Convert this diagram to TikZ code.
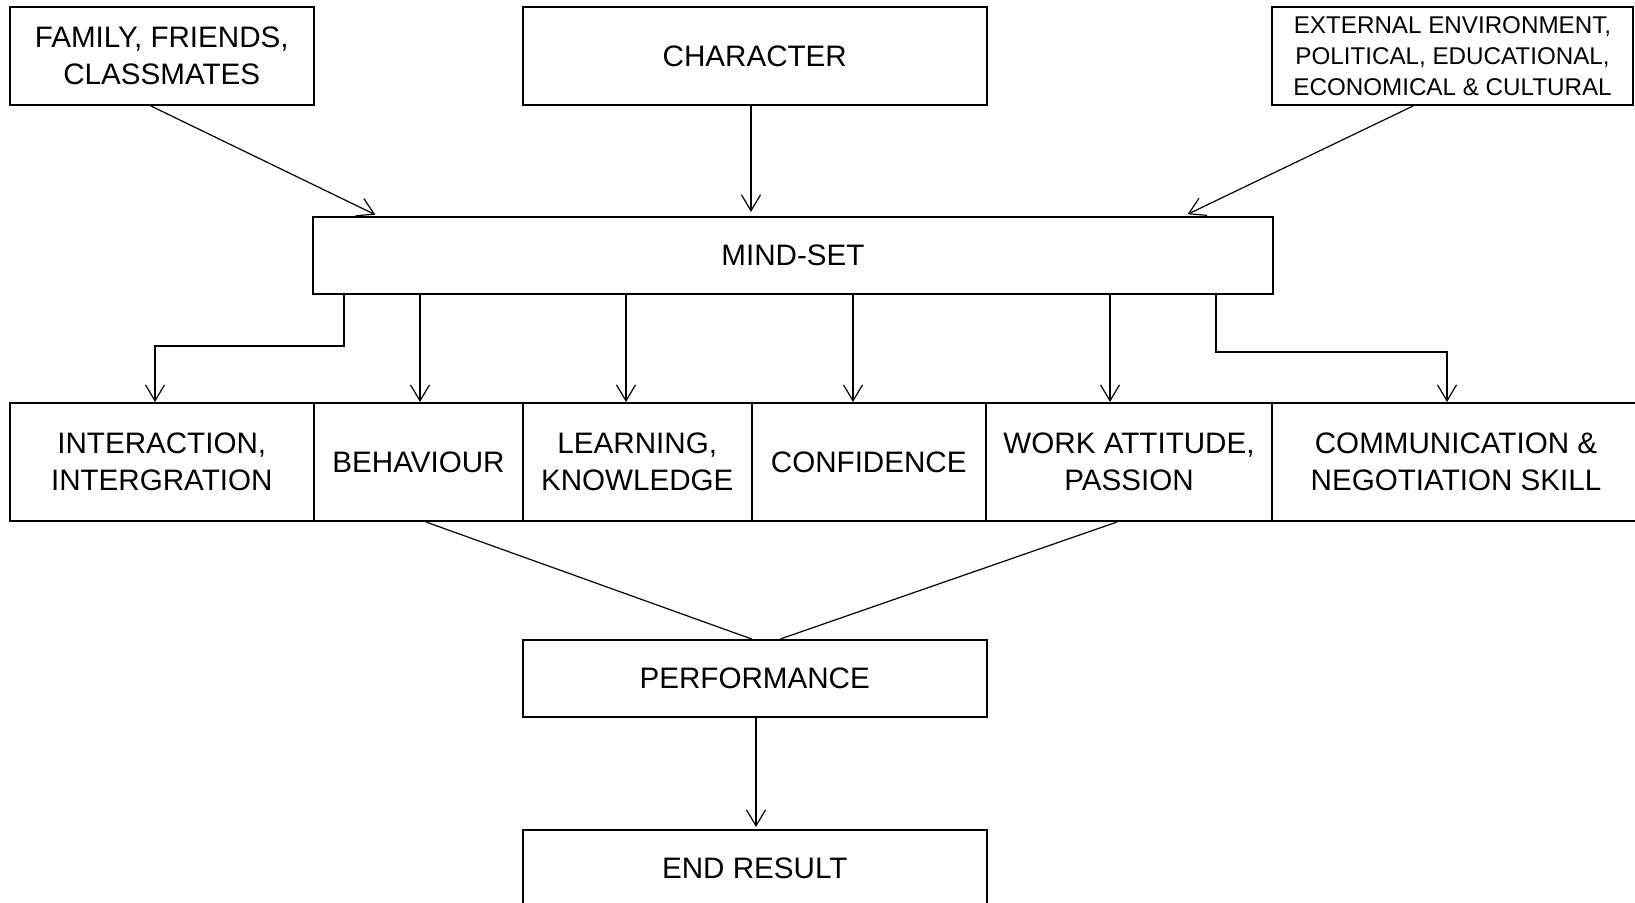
\documentclass[tikz,border=0pt]{standalone}
\usepackage{fontspec}
\setmainfont{Liberation Sans}
\usetikzlibrary{positioning, arrows.meta, calc}

\def\pix{0.5pt}

\tikzset{
    box/.style={draw=black, line width=1pt, inner sep=0pt, align=center,
        font=\fontsize{14.8}{18.4}\selectfont},
    conn/.style={line width=0.6pt, -{Straight Barb[length=8pt, width=9.5pt]}},
    link/.style={line width=0.6pt},
}

\begin{document}
\begin{tikzpicture}
    \useasboundingbox (0,0) rectangle (1635*\pix,-902*\pix);

    % top row
    \node[box, minimum width=304.5*\pix, minimum height=98*\pix] (family)
        at (161.75*\pix,-56*\pix) {FAMILY, FRIENDS,\\CLASSMATES};
    \node[box, minimum width=463.5*\pix, minimum height=98*\pix] (character)
        at (754.75*\pix,-56*\pix) {CHARACTER};
    \node[box, minimum width=361*\pix, minimum height=98*\pix,
        font=\fontsize{12.1}{15.5}\selectfont] (external)
        at (1452.5*\pix,-56*\pix) {EXTERNAL ENVIRONMENT,\\POLITICAL, EDUCATIONAL,\\ECONOMICAL \& CULTURAL};

    \node[box, minimum width=960*\pix, minimum height=77*\pix] (mindset)
        at (793*\pix,-255.5*\pix) {MIND-SET};

    % middle row
    \foreach \name/\cx/\w/\txt in {
        inter/161.75/304.5/{INTERACTION,\\INTERGRATION},
        behav/418.5/209/BEHAVIOUR,
        learn/637.25/228.5/{LEARNING,\\KNOWLEDGE},
        conf/868.75/234.5/CONFIDENCE,
        work/1129/286/{WORK ATTITUDE,\\PASSION},
        comm/1456/368/{COMMUNICATION \&\\NEGOTIATION SKILL}}{

        \node[box, minimum width=\w*\pix, minimum height=118*\pix] (\name)
            at (\cx*\pix,-462*\pix) {\txt};
    }

    \node[box, minimum width=463.5*\pix, minimum height=77*\pix] (perf)
        at (754.75*\pix,-678.5*\pix) {PERFORMANCE};
    \node[box, minimum width=463.5*\pix, minimum height=77*\pix] (endres)
        at (754.75*\pix,-868.5*\pix) {END RESULT};

    % into the mind-set
    \draw[conn, shorten >=1.5pt]
        ($(family.south)+(-10.75*\pix,0)$) -- ($(mindset.north west)+(66*\pix,0)$);
    \draw[conn, shorten >=2pt]
        ($(character.south)+(-3.75*\pix,0)$) -- ($(character.south |- mindset.north)+(-3.75*\pix,0)$);
    \draw[conn, shorten >=2pt]
        ($(external.south west)+(142*\pix,0)$) -- ($(mindset.north east)+(-90*\pix,0)$);

    % out of the mind-set
    \draw[conn]
        ($(mindset.south west)+(32*\pix,0)$) -- ++(0,-51*\pix) -| ($(inter.north)+(-6.75*\pix,0)$);
    \foreach \name/\dx in {behav/1.5, learn/-11.25, conf/-15.75, work/-19}{
        \draw[conn]
            ($(\name.north |- mindset.south)+(\dx*\pix,0)$) -- ($(\name.north)+(\dx*\pix,0)$);
    }
    \draw[conn]
        ($(mindset.south east)+(-58*\pix,0)$) -- ++(0,-57*\pix) -| ($(comm.north)+(-9*\pix,0)$);

    % to performance
    \draw[link] ($(behav.south)+(7.5*\pix,0)$) -- ($(perf.north)+(-3*\pix,0)$);
    \draw[link] ($(work.south)+(-12*\pix,0)$) -- ($(perf.north)+(25.5*\pix,0)$);

    \draw[conn, shorten >=1pt]
        ($(perf.south)+(1.25*\pix,0)$) -- ($(perf.south |- endres.north)+(1.25*\pix,0)$);
\end{tikzpicture}
\end{document}
